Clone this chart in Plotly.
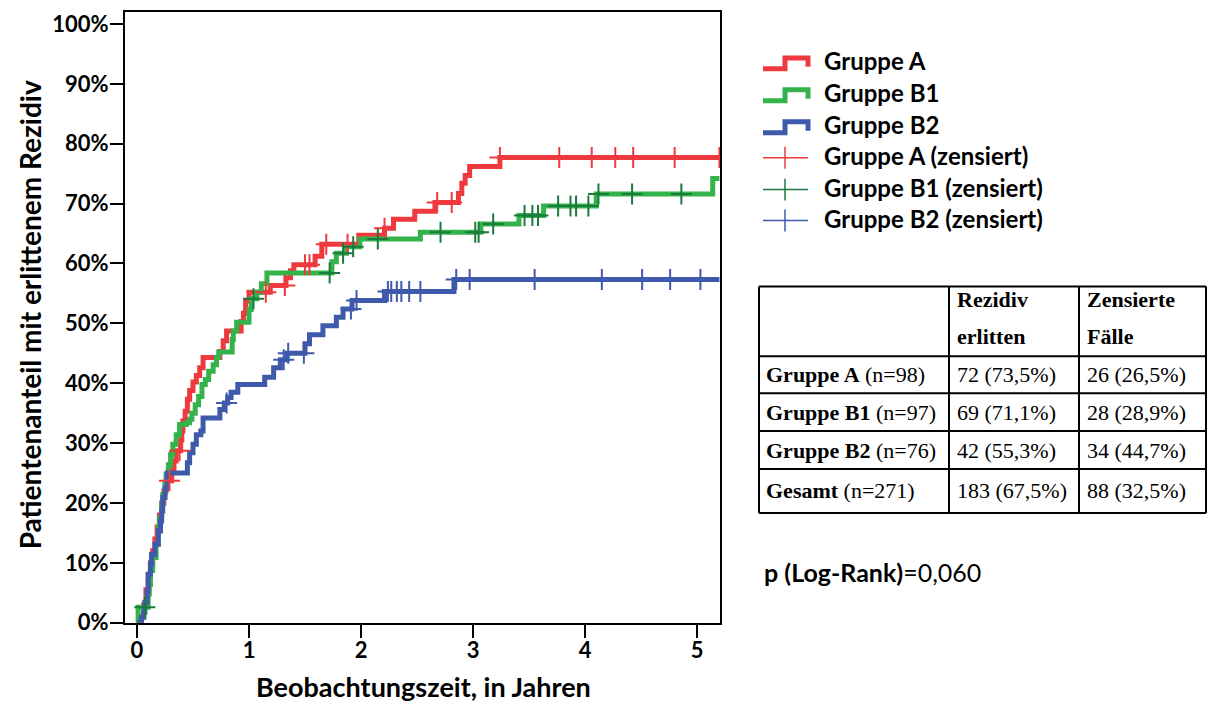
import numpy as np
import plotly.graph_objects as go

W, H = 1208, 713
K = 0.981  # observed vertical scale of the captured page

# ---------------- data (Kaplan-Meier cumulative incidence, %) ----------------
a_time = [0, 0.04, 0.06, 0.08, 0.10, 0.12, 0.14, 0.16, 0.18, 0.20, 0.22, 0.24, 0.26,
          0.31, 0.33, 0.35, 0.39, 0.40, 0.41, 0.43, 0.45, 0.47, 0.50, 0.53, 0.56, 0.59,
          0.74, 0.77, 0.80, 0.93, 0.95, 0.97, 1.00, 1.19, 1.33, 1.37, 1.40, 1.59, 1.65,
          1.98, 2.21, 2.29, 2.48, 2.66, 2.87, 2.90, 2.93, 2.97, 3.24, 5.20]
a_val = [0, 1.0, 3.0, 5.5, 8.0, 10.0, 12.0, 14.0, 16.0, 18.0, 20.0, 22.0, 23.7,
         25.5, 27.0, 28.7, 30.5, 32.0, 33.7, 35.3, 37.3, 38.8, 40.2, 41.3, 42.6, 44.3,
         45.3, 47.1, 48.7, 50.3, 51.7, 53.7, 55.2, 56.3, 57.6, 58.8, 59.8, 61.2, 63.2,
         64.7, 65.9, 67.4, 68.7, 70.2, 71.7, 73.4, 74.7, 76.2, 77.7, 77.7]
a_cens = [0.29, 0.38, 1.15, 1.32, 1.50, 1.54, 1.69, 1.88, 2.21, 2.68, 2.81, 3.24,
          3.77, 4.06, 4.27, 4.43, 4.80, 5.20]

b1_time = [0, 0.01, 0.10, 0.11, 0.12, 0.14, 0.17, 0.19, 0.20, 0.22, 0.23, 0.25, 0.26,
           0.28, 0.30, 0.32, 0.35, 0.38, 0.41, 0.44, 0.47, 0.49, 0.52, 0.55, 0.58, 0.61,
           0.64, 0.68, 0.71, 0.73, 0.85, 0.86, 0.89, 1.00, 1.02, 1.07, 1.11, 1.16, 1.74,
           1.78, 1.87, 1.99, 2.53, 3.07, 3.41, 3.63, 4.10, 5.14, 5.20]
b1_val = [0, 2.6, 4.8, 6.4, 8.7, 10.9, 13.1, 15.9, 17.5, 19.8, 21.4, 23.1, 24.8,
          26.4, 28.1, 29.8, 31.4, 33.1, 33.1, 33.4, 34.0, 35.0, 36.4, 37.8, 39.8, 40.6,
          42.0, 43.1, 44.3, 45.2, 47.3, 48.7, 50.2, 52.3, 54.1, 55.2, 56.6, 58.4, 60.3,
          61.7, 62.8, 64.1, 65.2, 66.6, 68.0, 69.6, 71.6, 74.2, 74.2]
b1_cens = [0.07, 1.04, 1.72, 1.84, 1.93, 2.15, 2.71, 3.02, 3.05, 3.18, 3.46, 3.53,
           3.58, 3.76, 3.87, 3.92, 4.03, 4.12, 4.42, 4.86]

b2_time = [0, 0.04, 0.06, 0.07, 0.09, 0.10, 0.12, 0.13, 0.16, 0.19, 0.21, 0.22, 0.23,
           0.25, 0.27, 0.45, 0.47, 0.50, 0.53, 0.57, 0.59, 0.74, 0.78, 0.81, 0.84, 0.90,
           1.14, 1.22, 1.28, 1.34, 1.50, 1.54, 1.66, 1.78, 1.84, 1.92, 2.21, 2.83, 5.20]
b2_val = [0, 0.9, 1.7, 3.4, 5.3, 8.1, 9.8, 11.4, 13.1, 15.3, 17.0, 18.7, 20.9,
          22.5, 25.0, 26.7, 28.4, 29.8, 31.4, 32.0, 34.2, 35.6, 36.7, 37.6, 38.5, 39.8,
          41.0, 42.6, 43.9, 45.0, 46.6, 48.1, 49.6, 51.0, 52.4, 53.8, 55.3, 57.3, 57.3]
b2_cens = [0.80, 1.31, 1.35, 1.49, 1.91, 1.96, 2.24, 2.27, 2.32, 2.36, 2.43, 2.53,
           2.85, 2.97, 3.55, 4.15, 4.51, 4.76, 5.03]

groups = ["Gruppe A", "Gruppe B1", "Gruppe B2"]
line_colors = ["#EE3A3F", "#34B34B", "#3F5AAB"]
cens_colors = ["#EE3A3F", "#1B7A3E", "#3F5AAB"]

x_ticks = [0, 1, 2, 3, 4, 5]
y_ticks = [0, 10, 20, 30, 40, 50, 60, 70, 80, 90, 100]
y_ticktext = ["0%", "10%", "20%", "30%", "40%", "50%", "60%", "70%", "80%", "90%", "100%"]

table_rows = [("Gruppe A", "(n=98)", "72 (73,5%)", "26 (26,5%)"),
              ("Gruppe B1", "(n=97)", "69 (71,1%)", "28 (28,9%)"),
              ("Gruppe B2", "(n=76)", "42 (55,3%)", "34 (44,7%)"),
              ("Gesamt", "(n=271)", "183 (67,5%)", "88 (32,5%)")]
p_label = "p (Log-Rank)"
p_value = "=0,060"

# ---------------- helpers ----------------
def px(x):
    return x / W

def py(y):
    return 1 - (y / K) / H

def step_at(times, vals, c):
    idx = np.searchsorted(np.array(times), c, side="right") - 1
    return np.array(vals)[idx]

FONT = "Lato"

fig = go.Figure()
series = [(a_time, a_val, a_cens), (b1_time, b1_val, b1_cens), (b2_time, b2_val, b2_cens)]
for (t, v, c), name, lc in zip(series, groups, line_colors):
    fig.add_trace(go.Scatter(x=t, y=v, mode="lines", line=dict(shape="hv", color=lc, width=5),
                             name=name, showlegend=False))
for (t, v, c), name, cc in zip(series, groups, cens_colors):
    fig.add_trace(go.Scatter(x=c, y=step_at(t, v, c), mode="markers",
                             marker=dict(symbol="cross-thin", size=15, line=dict(color=cc, width=2)),
                             name=name + " (zensiert)", showlegend=False))

fig.update_layout(
    width=W, height=H, autosize=False, margin=dict(l=0, r=0, t=0, b=0, pad=0),
    paper_bgcolor="white", plot_bgcolor="white",
    xaxis=dict(domain=[px(125), px(720)], range=[-0.107, 5.205], tickvals=x_ticks,
               ticks="outside", ticklen=13, tickwidth=2, tickcolor="black",
               showline=True, linewidth=2, linecolor="black", mirror=True,
               showgrid=False, zeroline=False, ticklabelstandoff=-6,
               tickfont=dict(family=FONT, size=22, color="black", weight="bold")),
    yaxis=dict(domain=[py(622), py(10)], range=[0, 102], tickvals=y_ticks, ticktext=y_ticktext,
               ticks="outside", ticklen=13, tickwidth=2, tickcolor="black",
               showline=True, linewidth=2, linecolor="black", mirror=True,
               showgrid=False, zeroline=False, ticklabelstandoff=-3,
               tickfont=dict(family=FONT, size=22, color="black", weight="bold")),
)

ann = []
shapes = []

def text(x, y, s, size, family=FONT, xanchor="left", bold=False, angle=0):
    f = dict(family=family, size=size, color="black")
    if bold:
        f["weight"] = "bold"
    ann.append(dict(x=px(x), y=py(y), xref="paper", yref="paper", text=s, xanchor=xanchor,
                    yanchor="middle", textangle=angle, showarrow=False, font=f))

# axis titles
text(30, 314, "Patientenanteil mit erlittenem Rezidiv", 28, xanchor="center", bold=True, angle=-90)
text(423, 686, "Beobachtungszeit, in Jahren", 27, xanchor="center", bold=True)

# legend (drawn)
leg_y = [61, 93, 125, 156, 188, 219]
for i, (name, lc) in enumerate(zip(groups, line_colors)):
    yb = leg_y[i] + 6
    yt = leg_y[i] - 5
    path = f"M {px(763)},{py(yb)} L {px(785)},{py(yb)} L {px(785)},{py(yt)} L {px(808)},{py(yt)} L {px(808)},{py(yb-2)}"
    shapes.append(dict(type="path", xref="paper", yref="paper", path=path,
                       line=dict(color=lc, width=5)))
    text(822, leg_y[i] - 2, name, 24, bold=True)
for i, (name, cc) in enumerate(zip(groups, cens_colors)):
    yy = leg_y[3 + i]
    shapes.append(dict(type="line", xref="paper", yref="paper", x0=px(763), x1=px(808), y0=py(yy), y1=py(yy),
                       line=dict(color=cc, width=1.5)))
    shapes.append(dict(type="line", xref="paper", yref="paper", x0=px(785), x1=px(785), y0=py(yy - 11), y1=py(yy + 11),
                       line=dict(color=cc, width=1.5)))
    text(822, yy - 2, name + " (zensiert)", 24, bold=True)

# table
TF = "Liberation Serif"
hlines = [285, 355, 392, 430, 468, 512]
vlines = [759, 949, 1079, 1206]
for yv in hlines:
    shapes.append(dict(type="line", xref="paper", yref="paper", x0=px(759), x1=px(1206), y0=py(yv), y1=py(yv),
                       line=dict(color="black", width=2)))
for xv in vlines:
    shapes.append(dict(type="line", xref="paper", yref="paper", x0=px(xv), x1=px(xv), y0=py(285), y1=py(512),
                       line=dict(color="black", width=2)))
head = [("Rezidiv", 955, 298), ("erlitten", 955, 335), ("Zensierte", 1085, 298), ("Fälle", 1085, 335)]
for txt, xx, yy in head:
    text(xx, yy, f"<b>{txt}</b>", 22, family=TF)
row_y = [373, 411, 449, 490]
for (g, n, r1, r2), yy in zip(table_rows, row_y):
    text(764, yy, f"<b>{g}</b> {n}", 22, family=TF)
    text(955, yy, r1, 22, family=TF)
    text(1085, yy, r2, 22, family=TF)

text(762, 571, f"<b>{p_label}</b>{p_value}", 25)

fig.update_layout(annotations=ann, shapes=shapes)
fig.write_html("out.html")
